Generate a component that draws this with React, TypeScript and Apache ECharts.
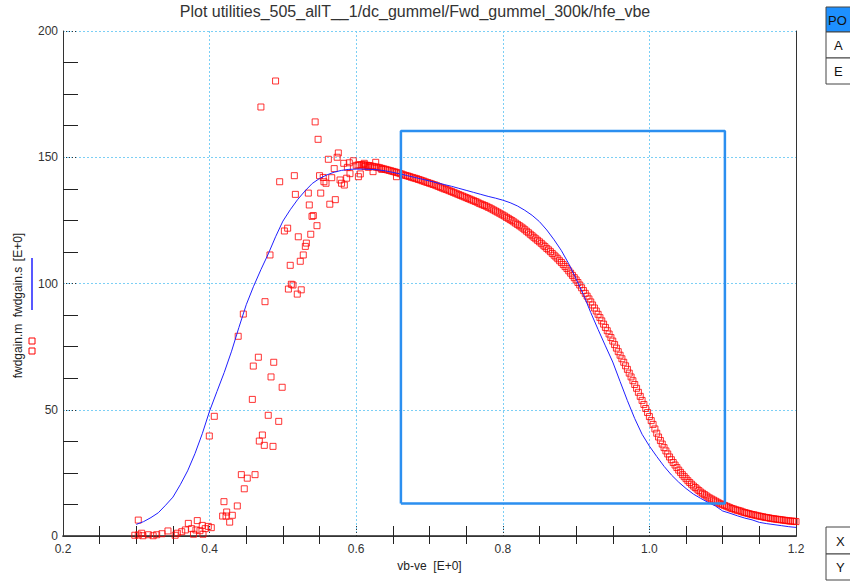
import React, { useEffect, useRef } from "react";
import * as echarts from "echarts";

const TITLE = "Plot utilities_505_allT__1/dc_gummel/Fwd_gummel_300k/hfe_vbe";
const X_NAME = "vb-ve  [E+0]";
const xTickValues = [0.2, 0.4, 0.6, 0.8, 1.0, 1.2];
const yTickValues = [0, 50, 100, 150, 200];

// measured fwdgain.m : scattered low-bias region
const measuredNoisy: number[][] = [
  [0.298, 0.3], [0.3027, 0.4], [0.3027, 6.3], [0.3073, 1.1], [0.309, 0.1], [0.3164, 0.5],
  [0.323, 0.1], [0.3278, 0.5], [0.335, 0.9], [0.3432, 2.0], [0.353, 0.3], [0.356, 1.1],
  [0.362, 1.7], [0.3669, 2.4], [0.371, 5.0], [0.3755, 2.9], [0.378, 0.7], [0.3814, 2.4],
  [0.3832, 6.1], [0.3869, 2.1], [0.39, 4.2], [0.391, 0.7], [0.394, 2.9], [0.3982, 3.8],
  [0.3996, 39.6], [0.4023, 3.3], [0.4064, 47.4], [0.4178, 7.9], [0.4196, 13.6], [0.4224, 7.9],
  [0.4233, 9.5], [0.4274, 5.5], [0.431, 8.2], [0.4378, 11.9], [0.439, 79.1], [0.4433, 24.3],
  [0.446, 87.9], [0.4473, 18.7], [0.4514, 22.9], [0.4583, 54.1], [0.4596, 67.3], [0.462, 24.3],
  [0.4665, 70.8], [0.4678, 37.6], [0.47, 169.9], [0.472, 40], [0.4746, 35.9], [0.4756, 92.8],
  [0.48, 47.8], [0.4824, 111.3], [0.4838, 63], [0.4865, 35.5], [0.4875, 68.8], [0.49, 180.2],
  [0.4943, 45.4], [0.4956, 140.3], [0.499, 58.9], [0.502, 120.8], [0.5065, 121.9], [0.5075, 97.8],
  [0.51, 107.2], [0.5115, 99.7], [0.5138, 99.4], [0.5156, 142.7], [0.517, 135.3], [0.5196, 95.8],
  [0.521, 118.5], [0.5237, 108.8], [0.525, 97.5], [0.5278, 111.3], [0.5306, 114.7], [0.532, 116],
  [0.5347, 135.8], [0.536, 131.1], [0.538, 119.5], [0.5397, 126.6], [0.5415, 126.9], [0.544, 164],
  [0.5465, 122.9], [0.548, 157.1], [0.55, 142.7], [0.5516, 135.8], [0.555, 142], [0.556, 140.3],
  [0.5588, 139.7], [0.562, 149.2], [0.564, 131.4], [0.5666, 141.9], [0.57, 145.5], [0.5715, 133.2],
  [0.574, 150], [0.5756, 151.7], [0.578, 141], [0.58, 139.7], [0.583, 147.6], [0.5838, 139],
  [0.587, 141.7], [0.588, 146], [0.5906, 147.8], [0.5915, 143.5], [0.596, 148.6], [0.603, 142.3],
  [0.6056, 143.4], [0.611, 147.6], [0.612, 146.3], [0.6166, 146], [0.623, 144.3], [0.6266, 148],
  [0.6348, 145.2], [0.655, 142.3],
];

// measured fwdgain.m : dense sweep region
const measuredDense: number[][] = [
  [0.6, 146.8], [0.6025, 146.9], [0.605, 147.0], [0.6075, 147.0], [0.61, 147.0], [0.6125, 146.9],
  [0.615, 146.8], [0.6175, 146.7], [0.62, 146.5], [0.6225, 146.4], [0.625, 146.2], [0.6275, 146.1],
  [0.63, 146.0], [0.6325, 145.8], [0.635, 145.6], [0.6375, 145.4], [0.64, 145.2], [0.6425, 145.0],
  [0.645, 144.8], [0.6475, 144.6], [0.65, 144.4], [0.6525, 144.2], [0.655, 144.0], [0.6575, 143.8],
  [0.66, 143.5], [0.6625, 143.3], [0.665, 143.0], [0.6675, 142.8], [0.67, 142.6], [0.6725, 142.4],
  [0.675, 142.1], [0.6775, 141.9], [0.68, 141.7], [0.6825, 141.5], [0.685, 141.2], [0.6875, 141.0],
  [0.69, 140.7], [0.6925, 140.5], [0.695, 140.2], [0.6975, 140.0], [0.7, 139.7], [0.7025, 139.5],
  [0.705, 139.2], [0.7075, 139.0], [0.71, 138.7], [0.7125, 138.4], [0.715, 138.1], [0.7175, 137.8],
  [0.72, 137.5], [0.7225, 137.3], [0.725, 137.0], [0.7275, 136.7], [0.73, 136.4], [0.7325, 136.1],
  [0.735, 135.8], [0.7375, 135.5], [0.74, 135.2], [0.7425, 134.9], [0.745, 134.6], [0.7475, 134.3],
  [0.75, 134.0], [0.7525, 133.7], [0.755, 133.4], [0.7575, 133.1], [0.76, 132.8], [0.7625, 132.5],
  [0.765, 132.2], [0.7675, 131.8], [0.77, 131.5], [0.7725, 131.2], [0.775, 130.9], [0.7775, 130.6],
  [0.78, 130.2], [0.7825, 129.9], [0.785, 129.5], [0.7875, 129.1], [0.79, 128.7], [0.7925, 128.3],
  [0.795, 127.9], [0.7975, 127.5], [0.8, 127.1], [0.8025, 126.7], [0.805, 126.2], [0.8075, 125.8],
  [0.81, 125.3], [0.8125, 124.9], [0.815, 124.4], [0.8175, 123.9], [0.82, 123.4], [0.8225, 122.9],
  [0.825, 122.4], [0.8275, 121.9], [0.83, 121.3], [0.8325, 120.7], [0.835, 120.1], [0.8375, 119.5],
  [0.84, 118.9], [0.8425, 118.3], [0.845, 117.7], [0.8475, 117.1], [0.85, 116.5], [0.8525, 115.9],
  [0.855, 115.2], [0.8575, 114.6], [0.86, 113.9], [0.8625, 113.3], [0.865, 112.6], [0.8675, 111.9],
  [0.87, 111.2], [0.8725, 110.5], [0.875, 109.8], [0.8775, 109.0], [0.88, 108.3], [0.8825, 107.5],
  [0.885, 106.7], [0.8875, 105.9], [0.89, 105.0], [0.8925, 104.1], [0.895, 103.2], [0.8975, 102.3],
  [0.9, 101.4], [0.9025, 100.4], [0.905, 99.4], [0.9075, 98.3], [0.91, 97.2], [0.9125, 96.1],
  [0.915, 95.0], [0.9175, 93.9], [0.92, 92.7], [0.9225, 91.5], [0.925, 90.3], [0.9275, 89.1],
  [0.93, 87.8], [0.9325, 86.5], [0.935, 85.2], [0.9375, 83.9], [0.94, 82.6], [0.9425, 81.3],
  [0.945, 80.0], [0.9475, 78.6], [0.95, 77.2], [0.9525, 75.8], [0.955, 74.4], [0.9575, 73.0],
  [0.96, 71.6], [0.9625, 70.2], [0.965, 68.8], [0.9675, 67.4], [0.97, 66.0], [0.9725, 64.5],
  [0.975, 63.0], [0.9775, 61.5], [0.98, 60.0], [0.9825, 58.5], [0.985, 56.9], [0.9875, 55.3],
  [0.99, 53.7], [0.9925, 52.1], [0.995, 50.5], [0.9975, 48.9], [1.0, 47.3], [1.0025, 45.7],
  [1.005, 44.2], [1.0075, 42.4], [1.01, 40.7], [1.0125, 39.2], [1.015, 37.8], [1.0175, 36.4],
  [1.02, 35.0], [1.0225, 33.7], [1.025, 32.5], [1.0275, 31.3], [1.03, 30.2], [1.0325, 29.1],
  [1.035, 28.1], [1.0375, 27.1], [1.04, 26.1], [1.0425, 25.2], [1.045, 24.3], [1.0475, 23.5],
  [1.05, 22.7], [1.0525, 21.9], [1.055, 21.2], [1.0575, 20.5], [1.06, 19.8], [1.0625, 19.2],
  [1.065, 18.6], [1.0675, 18.0], [1.07, 17.4], [1.0725, 16.9], [1.075, 16.4], [1.0775, 15.9],
  [1.08, 15.4], [1.0825, 15.0], [1.085, 14.6], [1.0875, 14.2], [1.09, 13.8], [1.0925, 13.4],
  [1.095, 13.0], [1.0975, 12.7], [1.1, 12.4], [1.1025, 12.1], [1.105, 11.8], [1.1075, 11.5],
  [1.11, 11.2], [1.1125, 10.9], [1.115, 10.7], [1.1175, 10.4], [1.12, 10.2], [1.1225, 10.0],
  [1.125, 9.8], [1.1275, 9.5], [1.13, 9.3], [1.1325, 9.1], [1.135, 8.9], [1.1375, 8.7],
  [1.14, 8.5], [1.1425, 8.4], [1.145, 8.2], [1.1475, 8.0], [1.15, 7.9], [1.1525, 7.7],
  [1.155, 7.6], [1.1575, 7.4], [1.16, 7.3], [1.1625, 7.2], [1.165, 7.0], [1.1675, 6.9],
  [1.17, 6.8], [1.1725, 6.7], [1.175, 6.6], [1.1775, 6.5], [1.18, 6.4], [1.1825, 6.3],
  [1.185, 6.2], [1.1875, 6.1], [1.19, 6.0], [1.1925, 5.9], [1.195, 5.9], [1.1975, 5.8], [1.2, 5.7],
];

// simulated fwdgain.s
const simulated: number[][] = [
  [0.3, 4.6], [0.31, 5.7], [0.32, 7.3], [0.33, 9.2], [0.34, 12.2], [0.35, 15.4], [0.36, 20.3],
  [0.37, 25.8], [0.38, 32.6], [0.39, 40.5], [0.4, 49.5], [0.41, 57.2], [0.42, 64.8], [0.43, 73.2],
  [0.44, 82.6], [0.45, 91.6], [0.46, 98.9], [0.47, 105.5], [0.48, 111.7], [0.49, 118.5], [0.5, 124.7],
  [0.51, 129.2], [0.52, 133.2], [0.53, 136.6], [0.54, 139.6], [0.55, 141.6], [0.56, 143.0],
  [0.57, 144.1], [0.58, 144.8], [0.59, 145.2], [0.6, 145.3], [0.61, 145.3], [0.62, 145.2],
  [0.63, 145.0], [0.64, 144.6], [0.65, 144.0], [0.66, 143.4], [0.67, 142.7], [0.68, 142.0],
  [0.69, 141.3], [0.7, 140.6], [0.71, 139.9], [0.72, 139.2], [0.73, 138.5], [0.74, 137.7],
  [0.75, 136.9], [0.76, 136.1], [0.77, 135.3], [0.78, 134.5], [0.79, 133.8], [0.8, 133.0],
  [0.81, 132.0], [0.82, 130.7], [0.83, 129.0], [0.84, 127.0], [0.85, 124.5], [0.86, 121.2],
  [0.87, 117.3], [0.88, 113.0], [0.89, 107.8], [0.9, 101.8], [0.91, 95.6], [0.92, 88.5],
  [0.93, 81.8], [0.94, 75.3], [0.95, 68.9], [0.96, 61.2], [0.97, 53.6], [0.98, 46.5],
  [0.99, 40.3], [1.0, 35.6], [1.01, 31.5], [1.02, 27.6], [1.03, 24.2], [1.04, 21.3],
  [1.05, 18.8], [1.06, 16.6], [1.07, 14.9], [1.08, 13.3], [1.09, 11.9], [1.1, 9.9],
  [1.11, 9.0], [1.12, 8.0], [1.13, 7.1], [1.14, 6.4], [1.15, 5.4], [1.16, 4.9],
  [1.17, 4.5], [1.18, 4.1], [1.19, 3.7], [1.2, 3.4],
];

// selection box [xMin, xMax, yMin, yMax]
const selectionBox = [0.661, 1.103, 12.9, 160.4];

const FONT = '"Liberation Sans", Arial, sans-serif';

export default function App() {
  const ref = useRef<HTMLDivElement>(null);
  useEffect(() => {
    if (!ref.current) return;
    const chart = echarts.init(ref.current, undefined, { renderer: "svg" });
    const [bx0, bx1, by0, by1] = selectionBox;
    const boxData = [
      [bx0, by0], [bx0, by1], [bx1, by1], [bx1, by0], [bx0, by0],
    ];
    const axisColor = "#333";
    const gridColor = "#7ccff5";
    const option: any = {
      animation: false,
      backgroundColor: "#fff",
      grid: { left: 63, right: 54, top: 31, bottom: 45, containLabel: false },
      xAxis: [
        {
          type: "value", min: 0.2, max: 1.2, interval: 0.2, position: "bottom",
          name: X_NAME, nameLocation: "middle", nameGap: 23,
          nameTextStyle: { color: "#222", fontSize: 12, fontFamily: FONT },
          axisLine: { show: true, lineStyle: { color: "#222", width: 1.5 } },
          axisTick: { show: true, inside: true, length: 10, lineStyle: { color: "#333", type: [1, 2] } },
          minorTick: { show: true, splitNumber: 4, length: 10, lineStyle: { color: "#222", width: 1 } },
          axisLabel: {
            color: "#333", fontSize: 12, fontFamily: FONT, margin: 7,
            formatter: (v: number) => (xTickValues.some((t) => Math.abs(t - v) < 1e-6) ? v.toFixed(1) : ""),
          },
          splitLine: { show: true, lineStyle: { color: gridColor, type: [2, 2], width: 1 } },
        },
        {
          type: "value", min: 0.2, max: 1.2, interval: 0.2, position: "top",
          axisLine: { show: true, lineStyle: { color: axisColor, width: 1 } },
          axisTick: { show: false, inside: true },
          minorTick: { show: true, splitNumber: 4, length: 8, lineStyle: { color: "#222" } },
          axisLabel: { show: false },
          splitLine: { show: false },
        },
      ],
      yAxis: [
        {
          type: "value", min: 0, max: 200, interval: 50, position: "left",
          axisLine: { show: true, lineStyle: { color: axisColor, width: 1 } },
          axisTick: { show: true, inside: true, length: 15, lineStyle: { color: "#333", type: [1, 2] } },
          minorTick: { show: true, splitNumber: 4, length: 15, lineStyle: { color: "#222" } },
          axisLabel: {
            color: "#333", fontSize: 12, fontFamily: FONT, margin: 5,
            formatter: (v: number) => (yTickValues.includes(v) ? String(v) : ""),
          },
          splitLine: { show: true, lineStyle: { color: gridColor, type: [2, 2], width: 1 } },
        },
        {
          type: "value", min: 0, max: 200, interval: 50, position: "right",
          axisLine: { show: true, lineStyle: { color: axisColor, width: 1 } },
          axisTick: { show: false },
          axisLabel: { show: false },
          splitLine: { show: false },
        },
      ],
      series: [
        {
          name: "fwdgain.m",
          type: "scatter",
          xAxisIndex: 0, yAxisIndex: 0,
          symbol: "rect", symbolSize: 6,
          data: [...measuredNoisy, ...measuredDense],
          itemStyle: { color: "rgba(255,255,255,0)", borderColor: "#ff0000", borderWidth: 1 },
          z: 2,
        },
        {
          name: "fwdgain.s",
          type: "line",
          xAxisIndex: 0, yAxisIndex: 0,
          data: simulated,
          showSymbol: false, symbol: "none",
          lineStyle: { color: "#2020ff", width: 1 },
          z: 3,
        },
        {
          name: "selection",
          type: "line",
          xAxisIndex: 0, yAxisIndex: 0,
          data: boxData,
          showSymbol: false, symbol: "none",
          lineStyle: { color: "#2b8ff0", width: 2.5 },
          z: 4,
        },
      ],
      graphic: [
        {
          type: "text", x: 415, y: 11,
          style: { text: TITLE, fontSize: 16, fontFamily: FONT, fill: "#333", align: "center", verticalAlign: "middle" },
        },
        {
          type: "text", x: 18, y: 351, rotation: Math.PI / 2,
          style: { text: "fwdgain.m", fontSize: 12, fontFamily: FONT, fill: "#222", align: "center", verticalAlign: "middle" },
        },
        {
          type: "text", x: 18, y: 292, rotation: Math.PI / 2,
          style: { text: "fwdgain.s", fontSize: 12, fontFamily: FONT, fill: "#222", align: "center", verticalAlign: "middle" },
        },
        {
          type: "text", x: 18, y: 247, rotation: Math.PI / 2,
          style: { text: "[E+0]", fontSize: 12, fontFamily: FONT, fill: "#222", align: "center", verticalAlign: "middle" },
        },
        { type: "line", shape: { x1: 32, y1: 258, x2: 32, y2: 310 }, style: { stroke: "#2020ff", lineWidth: 1.5 } },
        { type: "rect", shape: { x: 29, y: 338, width: 6, height: 6 }, style: { fill: "none", stroke: "#ff0000", lineWidth: 1 } },
        { type: "rect", shape: { x: 29, y: 348, width: 6, height: 6 }, style: { fill: "none", stroke: "#ff0000", lineWidth: 1 } },
        // top-right widget
        { type: "rect", shape: { x: 826, y: 7, width: 40, height: 25 }, style: { fill: "#1e90ff", stroke: "#444", lineWidth: 1 } },
        { type: "rect", shape: { x: 826, y: 32, width: 40, height: 26 }, style: { fill: "#fff", stroke: "#444", lineWidth: 1 } },
        { type: "rect", shape: { x: 826, y: 58, width: 40, height: 26 }, style: { fill: "#fff", stroke: "#444", lineWidth: 1 } },
        { type: "text", x: 828, y: 20, style: { text: "PO", fontSize: 13, fontFamily: FONT, fill: "#111", verticalAlign: "middle" } },
        { type: "text", x: 834, y: 45, style: { text: "A", fontSize: 13, fontFamily: FONT, fill: "#111", verticalAlign: "middle" } },
        { type: "text", x: 834, y: 71, style: { text: "E", fontSize: 13, fontFamily: FONT, fill: "#111", verticalAlign: "middle" } },
        // bottom-right widget
        { type: "rect", shape: { x: 826, y: 527, width: 40, height: 27 }, style: { fill: "#fff", stroke: "#444", lineWidth: 1 } },
        { type: "rect", shape: { x: 826, y: 554, width: 40, height: 26 }, style: { fill: "#fff", stroke: "#444", lineWidth: 1 } },
        { type: "text", x: 836, y: 541, style: { text: "X", fontSize: 13, fontFamily: FONT, fill: "#111", verticalAlign: "middle" } },
        { type: "text", x: 836, y: 567, style: { text: "Y", fontSize: 13, fontFamily: FONT, fill: "#111", verticalAlign: "middle" } },
      ],
    };
    chart.setOption(option);
    return () => chart.dispose();
  }, []);
  return (
    <div
      ref={ref}
      style={{ position: "fixed", left: 0, top: 0, width: 850, height: 581, background: "#fff" }}
    />
  );
}
